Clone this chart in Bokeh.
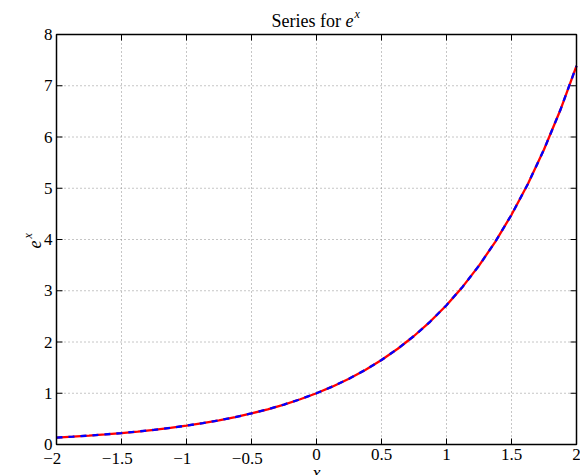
import math
from bokeh.plotting import figure
from bokeh.models import Range1d, ColumnDataSource
from bokeh.core.properties import value
from bokeh.embed import file_html
from bokeh.resources import INLINE

# data
x_vals = [-2.0, -1.875, -1.75, -1.625, -1.5, -1.375, -1.25, -1.125, -1.0,
          -0.875, -0.75, -0.625, -0.5, -0.375, -0.25, -0.125, 0.0,
          0.125, 0.25, 0.375, 0.5, 0.625, 0.75, 0.875, 1.0,
          1.125, 1.25, 1.375, 1.5, 1.625, 1.75, 1.875, 2.0]
exact_vals = [0.135, 0.153, 0.174, 0.197, 0.223, 0.253, 0.287, 0.325, 0.368,
              0.417, 0.472, 0.535, 0.607, 0.687, 0.779, 0.883, 1.0,
              1.133, 1.284, 1.455, 1.649, 1.868, 2.117, 2.399, 2.718,
              3.080, 3.490, 3.955, 4.482, 5.078, 5.755, 6.521, 7.389]
series_vals = [0.135, 0.153, 0.174, 0.197, 0.223, 0.253, 0.287, 0.325, 0.368,
               0.417, 0.472, 0.535, 0.607, 0.687, 0.779, 0.883, 1.0,
               1.133, 1.284, 1.455, 1.649, 1.868, 2.117, 2.399, 2.718,
               3.080, 3.490, 3.955, 4.482, 5.078, 5.755, 6.521, 7.389]
x_ticks = [-2, -1.5, -1, -0.5, 0, 0.5, 1, 1.5, 2]
x_tick_labels = ["\u22122", "\u22121.5", "\u22121", "\u22120.5", "0", "0.5", "1", "1.5", "2"]
y_ticks = [0, 1, 2, 3, 4, 5, 6, 7, 8]
y_tick_labels = ["0", "1", "2", "3", "4", "5", "6", "7", "8"]
title_text = "Series for"
title_var = "e"
title_sup = "x"
xlabel_text = "x"

# layout (pixels)
W, H = 580, 475
LEFT, RIGHT, TOP, BOTTOM = 56, 4, 34, 31
X0, X1, Y0, Y1 = -2.0, 2.0, 0.0, 8.0
sx = (W - LEFT - RIGHT) / (X1 - X0)
sy = (H - TOP - BOTTOM) / (Y1 - Y0)

FONT = value("Liberation Serif")

p = figure(width=W, height=H,
           x_range=Range1d(X0 - LEFT / sx, X1 + RIGHT / sx),
           y_range=Range1d(Y0 - BOTTOM / sy, Y1 + TOP / sy),
           x_axis_type=None, y_axis_type=None,
           output_backend="svg", toolbar_location=None, min_border=0)
p.outline_line_color = None
p.background_fill_color = "white"
p.border_fill_color = "white"

n_x, n_y = len(x_ticks), len(y_ticks)

# dotted grid
p.segment(x0=x_ticks, y0=[Y0] * n_x, x1=x_ticks, y1=[Y1] * n_x,
          line_color="#8c8c8c", line_dash="1 3", line_width=1)
p.segment(x0=[X0] * n_y, y0=y_ticks, x1=[X1] * n_y, y1=y_ticks,
          line_color="#8c8c8c", line_dash="1 3", line_width=1)

# curves
src = ColumnDataSource(dict(x=x_vals, exact=exact_vals, series=series_vals))
p.line("x", "exact", source=src, line_color="red", line_width=2.3)
p.line("x", "series", source=src, line_color="blue", line_width=2.3, line_dash="6 6")

# inward ticks on all four sides
tl_x = 6 / sx
tl_y = 6 / sy
p.segment(x0=x_ticks, y0=[Y0] * n_x, x1=x_ticks, y1=[Y0 + tl_y] * n_x, line_color="black", line_width=1)
p.segment(x0=x_ticks, y0=[Y1] * n_x, x1=x_ticks, y1=[Y1 - tl_y] * n_x, line_color="black", line_width=1)
p.segment(x0=[X0] * n_y, y0=y_ticks, x1=[X0 + tl_x] * n_y, y1=y_ticks, line_color="black", line_width=1)
p.segment(x0=[X1] * n_y, y0=y_ticks, x1=[X1 - tl_x] * n_y, y1=y_ticks, line_color="black", line_width=1)

# frame border
p.quad(left=[X0], right=[X1], bottom=[Y0], top=[Y1], fill_color=None,
       line_color="black", line_width=1.5)

# tick labels
x_lab_text = [l + ("\u2002" if l.startswith("\u2212") else "") for l in x_tick_labels]
p.text(x=x_ticks, y=[Y0] * n_x, text=x_lab_text, y_offset=4,
       text_font=FONT, text_font_size="17px", text_align="center", text_baseline="top",
       text_color="black")
p.text(x=[X0] * n_y, y=y_ticks, text=y_tick_labels, x_offset=-4,
       text_font=FONT, text_font_size="17px", text_align="right", text_baseline="middle",
       text_color="black")

XM = (X0 + X1) / 2
YM = (Y0 + Y1) / 2

# title "Series for e^x"
p.text(x=[XM], y=[Y1], text=[title_text], x_offset=-45, y_offset=-14,
       text_font=FONT, text_font_size="18px", text_align="left", text_baseline="alphabetic",
       text_color="black")
p.text(x=[XM], y=[Y1], text=[title_var], x_offset=29, y_offset=-14,
       text_font=FONT, text_font_size="18px", text_font_style="italic", text_align="left",
       text_baseline="alphabetic", text_color="black")
p.text(x=[XM], y=[Y1], text=[title_sup], x_offset=38, y_offset=-21,
       text_font=FONT, text_font_size="12px", text_font_style="italic", text_align="left",
       text_baseline="alphabetic", text_color="black")

# y label e^x (rotated)
p.text(x=[X0], y=[YM], text=[title_var], x_offset=-22, y_offset=9, angle=math.pi / 2,
       text_font=FONT, text_font_size="18px", text_font_style="italic", text_align="left",
       text_baseline="alphabetic", text_color="black")
p.text(x=[X0], y=[YM], text=[title_sup], x_offset=-29, y_offset=-1, angle=math.pi / 2,
       text_font=FONT, text_font_size="12px", text_font_style="italic", text_align="left",
       text_baseline="alphabetic", text_color="black")

# x label
p.text(x=[XM], y=[Y0], text=[xlabel_text], y_offset=28,
       text_font=FONT, text_font_size="18px", text_font_style="italic", text_align="center",
       text_baseline="alphabetic", text_color="black")

open("out.html", "w").write(file_html(p, INLINE))
